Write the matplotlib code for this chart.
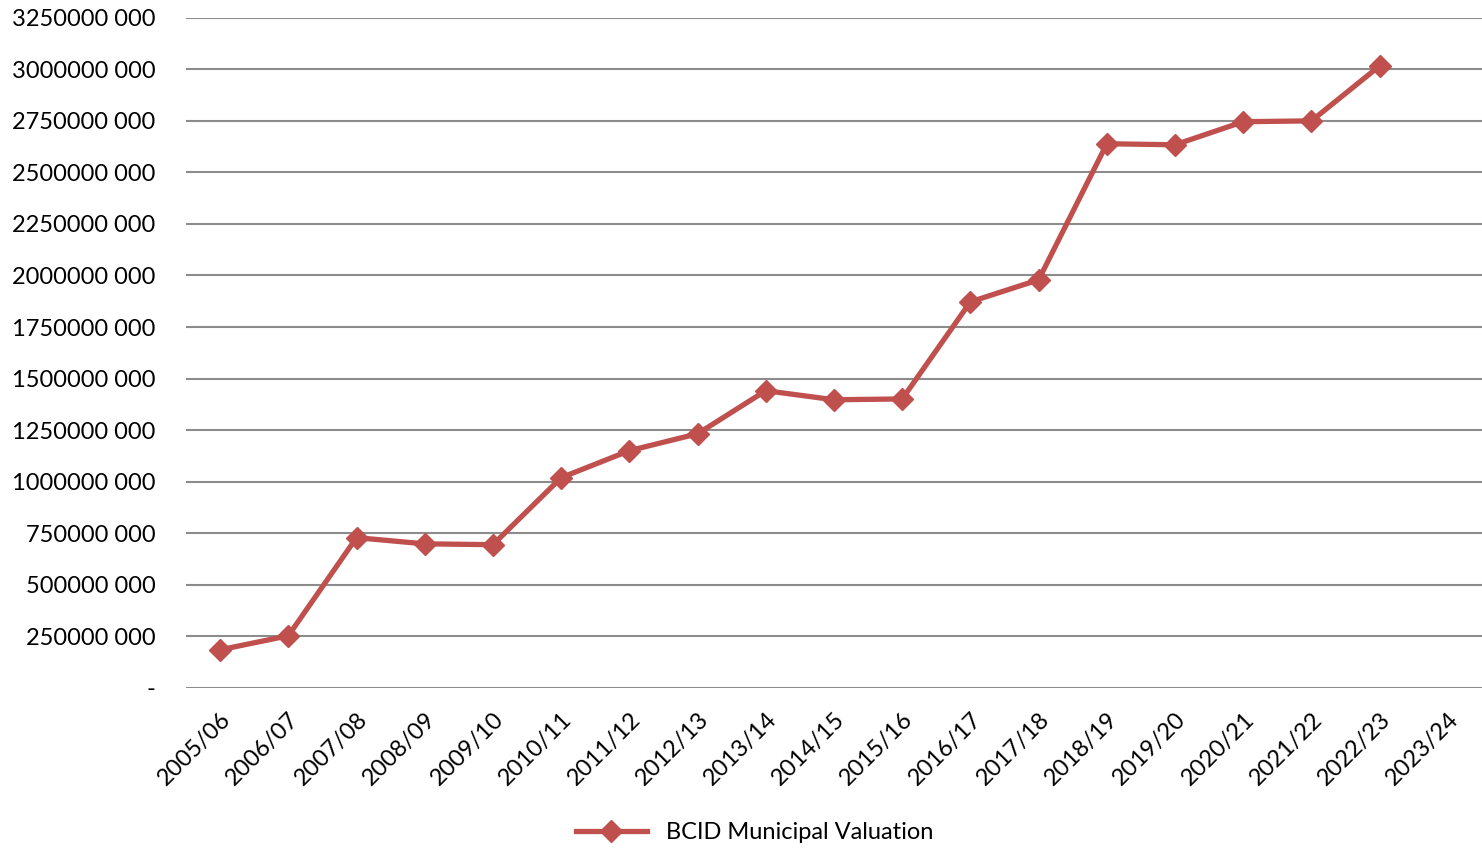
import matplotlib
matplotlib.use("Agg")
import matplotlib.pyplot as plt
from matplotlib.ticker import FuncFormatter, MultipleLocator

plt.rcParams['font.family'] = ['Lato', 'DejaVu Sans']

years = ['2005/06', '2006/07', '2007/08', '2008/09', '2009/10', '2010/11',
         '2011/12', '2012/13', '2013/14', '2014/15', '2015/16', '2016/17',
         '2017/18', '2018/19', '2019/20', '2020/21', '2021/22', '2022/23',
         '2023/24']
# values in rand, last year has no data yet
valuation = [184e6, 252e6, 728e6, 698e6, 694e6, 1019e6, 1150e6, 1232e6,
             1441e6, 1397e6, 1401e6, 1872e6, 1979e6, 2639e6, 2634e6,
             2746e6, 2750e6, 3017e6, None]

red = '#C0504D'


def fmt(v, pos):
    v = int(round(v))
    if v == 0:
        return '-'
    return f'{v // 1000} {v % 1000:03d}'


fig = plt.figure(figsize=(14.82, 8.48), dpi=100)
ax = fig.add_axes([0.1255, 0.189, 0.8745, 0.790])

xs = [i for i, v in enumerate(valuation) if v is not None]
ys = [v for v in valuation if v is not None]
ax.plot(xs, ys, color=red, lw=3.8, marker='D', markersize=11,
        label='BCID Municipal Valuation')

ax.set_xlim(-0.5, len(years) - 0.5)
ax.set_ylim(0, 3250e6)
ax.yaxis.set_major_locator(MultipleLocator(250e6))
ax.yaxis.set_major_formatter(FuncFormatter(fmt))
ax.grid(axis='y', color='#8c8c8c', lw=1.5)
ax.set_axisbelow(True)
for s in ax.spines.values():
    s.set_visible(False)

ax.set_xticks(range(len(years)))
ax.set_xticklabels(years, rotation=45, ha='right', rotation_mode='anchor')
ax.tick_params(axis='both', length=0, labelsize=17, colors='black')
ax.tick_params(axis='y', pad=22)
ax.tick_params(axis='x', pad=15)

fig.legend(loc='center', bbox_to_anchor=(0.509, 0.018), frameon=False,
           fontsize=17, handlelength=3)

fig.savefig('out.png', dpi=100)
